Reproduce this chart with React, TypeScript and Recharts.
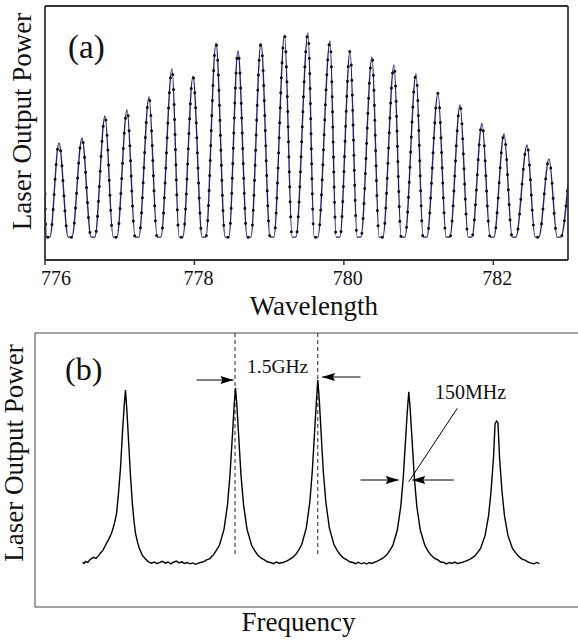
import React from 'react';
import { LineChart, Line, XAxis, YAxis, ReferenceLine } from 'recharts';

const SERIF = '"Liberation Serif", "Times New Roman", serif';
const INK = '#111';

// (a) wavelength scan — nm vs. arbitrary power (0..100)
const WAVE_TICKS = [776, 778, 780, 782];
const PEAK_NM = [
  776.187, 776.495, 776.803, 777.098, 777.392, 777.700, 777.981, 778.289,
  778.583, 778.891, 779.206, 779.520, 779.815, 780.083, 780.377, 780.671,
  780.966, 781.260, 781.555, 781.849, 782.144, 782.452, 782.746,
];
const PEAK_LEVEL = [
  46.1, 48.0, 56.7, 59.1, 64.2, 75.2, 72.4, 85.4, 82.3, 85.4, 88.6, 89.4,
  86.2, 82.3, 79.9, 76.8, 73.2, 65.7, 61.0, 53.9, 49.6, 45.3, 39.8,
];
// flat bottoms between the fringes (start / end of each trough)
const TROUGH_L = [
  776.015, 776.310, 776.617, 776.912, 777.206, 777.501, 777.795, 778.103,
  778.411, 778.706, 779.013, 779.308, 779.602, 779.897, 780.178, 780.472,
  780.767, 781.061, 781.369, 781.664, 781.958, 782.253, 782.560, 782.855,
];
const TROUGH_R = [
  776.065, 776.360, 776.667, 776.962, 777.256, 777.551, 777.845, 778.153,
  778.461, 778.756, 779.063, 779.358, 779.652, 779.947, 780.228, 780.522,
  780.817, 781.111, 781.419, 781.714, 782.008, 782.303, 782.610, 782.905,
];
const FLOOR = 9;
const EDGE_NM = [776.0, 783.0];
const EDGE_LEVEL = [26, 30];

// (b) frequency scan — arbitrary units, ticks at 1..5
const FREQ_TICKS = [1, 2, 3, 4, 5];
const POWER_TICKS = [1, 2, 3, 4, 5];
const FREQ = [
  0.518, 0.535, 0.550, 0.575, 0.600, 0.638, 0.665, 0.690, 0.714, 0.740, 0.768, 0.800, 0.834, 0.862, 0.888, 0.910,
  0.932, 0.954, 0.972, 0.986, 1.000, 1.014, 1.041, 1.063, 1.079, 1.095, 1.117, 1.139, 1.170, 1.204, 1.237, 1.270,
  1.300, 1.330, 1.360, 1.390, 1.420, 1.450, 1.480, 1.510, 1.540, 1.570, 1.600, 1.630, 1.660, 1.690, 1.720, 1.750, 1.775,
  1.804, 1.840, 1.869, 1.905, 1.946, 1.980, 2.011, 2.060, 2.098, 2.125, 2.153, 2.170, 2.185, 2.200, 2.218, 2.245,
  2.273, 2.311, 2.360, 2.392, 2.425, 2.465, 2.501, 2.535, 2.567,
  2.600, 2.630, 2.660, 2.701,
  2.735, 2.766, 2.805, 2.843, 2.875, 2.908, 2.957, 2.995, 3.022, 3.050, 3.067, 3.082, 3.098, 3.115, 3.142, 3.170,
  3.208, 3.257, 3.290, 3.322, 3.360, 3.398, 3.430, 3.464,
  3.495, 3.525, 3.555, 3.585, 3.615, 3.645, 3.670,
  3.693, 3.725, 3.758, 3.795, 3.834, 3.867, 3.900, 3.949, 3.987, 4.014, 4.041, 4.058, 4.074, 4.090, 4.107, 4.134,
  4.161, 4.199, 4.249, 4.282, 4.314, 4.352, 4.390, 4.422, 4.456,
  4.485, 4.515, 4.545, 4.575, 4.605, 4.630,
  4.649, 4.680, 4.714, 4.752, 4.790, 4.823, 4.856, 4.905, 4.943, 4.970, 4.997, 5.014, 5.030, 5.046, 5.063, 5.090,
  5.117, 5.155, 5.204, 5.237, 5.270, 5.308, 5.346, 5.380, 5.411, 5.440, 5.470, 5.499,
];
const POWER = [
  0.980, 0.955, 1.000, 0.975, 1.040, 1.087, 1.065, 1.120, 1.182, 1.240, 1.352, 1.470, 1.616, 1.800, 2.032, 2.485,
  3.051, 3.845, 4.400, 4.751, 4.350, 3.845, 2.863, 2.220, 1.880, 1.616, 1.420, 1.276, 1.130, 1.050, 0.990, 0.960,
  0.985, 0.950, 0.975, 1.000, 0.960, 0.985, 0.945, 0.980, 1.005, 0.965, 0.990, 0.955, 0.975, 0.945, 0.965, 0.935, 0.955,
  0.974, 0.995, 1.031, 1.060, 1.146, 1.250, 1.357, 1.701, 2.237, 2.888, 3.806, 4.400, 4.801, 4.420, 3.806, 2.888,
  2.237, 1.701, 1.357, 1.240, 1.146, 1.070, 1.031, 0.985, 0.974,
  0.950, 0.985, 0.960, 0.974,
  1.000, 1.034, 1.080, 1.154, 1.250, 1.374, 1.733, 2.293, 2.972, 3.931, 4.500, 4.970, 4.550, 3.931, 2.972, 2.293,
  1.733, 1.374, 1.250, 1.154, 1.075, 1.034, 0.990, 0.974,
  0.950, 0.980, 0.945, 0.970, 0.940, 0.975, 0.955,
  0.974, 1.000, 1.030, 1.075, 1.142, 1.240, 1.348, 1.685, 2.208, 2.844, 3.742, 4.300, 4.714, 4.300, 3.742, 2.844,
  2.208, 1.685, 1.348, 1.230, 1.142, 1.070, 1.030, 0.985, 0.974,
  0.945, 0.975, 0.955, 0.985, 0.950, 0.970,
  0.974, 0.995, 1.020, 1.060, 1.113, 1.190, 1.284, 1.563, 1.996, 2.523, 3.267, 4.010, 4.072, 4.030, 3.267, 2.523,
  1.996, 1.563, 1.284, 1.190, 1.113, 1.050, 1.020, 0.980, 0.960, 0.945, 0.975, 0.950,
];

// annotation positions in (b), data units
const FSR_LINES = [2.18, 3.082];
const FSR_ARROWS = [
  { from: [1.76, 4.97], to: [2.163, 4.97] },
  { from: [3.548, 5.036], to: [3.128, 5.036] },
];
const WIDTH_ARROWS = [
  { from: [3.548, 2.781], to: [3.964, 2.781] },
  { from: [4.565, 2.781], to: [4.111, 2.781] },
];
const LEADER = { from: [4.602, 4.351], to: [4.074, 2.744] };

const scanRows: { nm: number; p: number }[] = [{ nm: EDGE_NM[0], p: EDGE_LEVEL[0] }];
PEAK_NM.forEach((nm, i) => {
  scanRows.push({ nm: TROUGH_L[i], p: FLOOR }, { nm: TROUGH_R[i], p: FLOOR }, { nm, p: PEAK_LEVEL[i] });
});
scanRows.push(
  { nm: TROUGH_L[PEAK_NM.length], p: FLOOR },
  { nm: TROUGH_R[PEAK_NM.length], p: FLOOR },
  { nm: EDGE_NM[1], p: EDGE_LEVEL[1] },
);

const freqRows = FREQ.map((f, i) => ({ f, p: POWER[i] }));

const WaveTick = (props: any) => {
  const { x, y, payload } = props;
  const dx = payload.value === 776 ? 11 : 4;
  return (
    <text x={x + dx} y={y + 18} textAnchor="middle" fontSize={20} fill={INK} fontFamily={SERIF}>
      {payload.value}
    </text>
  );
};

const seg = (a: { from: number[]; to: number[] }) => [
  { x: a.from[0], y: a.from[1] },
  { x: a.to[0], y: a.to[1] },
];

const App: React.FC = () => {
  const boxA = { stroke: '#333', strokeWidth: 1.8 };
  const boxB = { stroke: '#444', strokeWidth: 1 };

  return (
    <div style={{ position: 'absolute', left: 0, top: 0, width: 578, height: 640, background: '#fff', fontFamily: SERIF }}>
      <svg width={0} height={0} style={{ position: 'absolute' }}>
        <defs>
          <marker id="arrowHead" markerUnits="userSpaceOnUse" markerWidth={14} markerHeight={8} refX={13} refY={4} orient="auto">
            <path d="M0,0 L13,4 L0,8 L2,4 z" fill="#000" />
          </marker>
        </defs>
      </svg>

      {/* (a) — axes of size 1 so Recharts still draws them */}
      <div style={{ position: 'absolute', left: 0, top: 0 }}>
        <LineChart width={578} height={290} data={scanRows} margin={{ top: 5, right: 9, bottom: 0, left: 44 }}>
          <XAxis
            dataKey="nm" type="number" domain={[776, 783]} ticks={WAVE_TICKS} allowDataOverflow
            height={30} axisLine={boxA} tickLine={{ stroke: '#333', strokeWidth: 1.5 }} tickSize={5} tick={<WaveTick />}
          />
          <XAxis xAxisId="top" orientation="top" dataKey="nm" type="number" domain={[776, 783]} height={1} axisLine={boxA} tick={false} tickLine={false} />
          <YAxis type="number" domain={[0, 100]} width={1} axisLine={boxA} tick={false} tickLine={false} />
          <YAxis yAxisId="r" orientation="right" type="number" domain={[0, 100]} width={1} axisLine={boxA} tick={false} tickLine={false} />
          <Line type="monotone" dataKey="p" stroke="#24246e" strokeWidth={1.4} dot={false} isAnimationActive={false} />
          <Line
            type="monotone" dataKey="p" stroke="#0d0d0d" strokeWidth={3} strokeDasharray="0 15" strokeLinecap="round"
            dot={false} isAnimationActive={false}
          />
        </LineChart>
      </div>

      {/* (b) */}
      <div style={{ position: 'absolute', left: 0, top: 320 }}>
        <LineChart width={578} height={300} data={freqRows} margin={{ top: 13, right: 0, bottom: 13, left: 35 }}>
          <XAxis
            dataKey="f" type="number" domain={[0, 5.918]} ticks={FREQ_TICKS} allowDataOverflow
            mirror height={1} axisLine={boxB} tickLine={boxB} tickSize={4} tick={false}
          />
          <XAxis
            xAxisId="top" orientation="top" dataKey="f" type="number" domain={[0, 5.918]} ticks={FREQ_TICKS}
            mirror height={1} axisLine={boxB} tickLine={boxB} tickSize={4} tick={false}
          />
          <YAxis type="number" domain={[0, 6]} ticks={POWER_TICKS} mirror width={1} axisLine={boxB} tickLine={boxB} tickSize={4} tick={false} />
          {FSR_LINES.map((x) => (
            <ReferenceLine key={x} segment={[{ x, y: 6 }, { x, y: 1.14 }]} stroke="#222" strokeWidth={1} strokeDasharray="4 3" />
          ))}
          {[...FSR_ARROWS, ...WIDTH_ARROWS].map((a, i) => (
            <ReferenceLine key={`arr${i}`} segment={seg(a)} stroke="#000" strokeWidth={1} markerEnd="url(#arrowHead)" />
          ))}
          <ReferenceLine segment={seg(LEADER)} stroke="#000" strokeWidth={1} />
          <Line type="linear" dataKey="p" stroke="#000" strokeWidth={1.4} dot={false} isAnimationActive={false} />
        </LineChart>
      </div>

      <svg width={578} height={640} style={{ position: 'absolute', left: 0, top: 0, pointerEvents: 'none' }} fontFamily={SERIF} fill={INK}>
        <text x={68} y={58} fontSize={33}>(a)</text>
        <text transform="translate(31,121.5) rotate(-90)" textAnchor="middle" fontSize={27}>Laser Output Power</text>
        <text x={313.8} y={315} textAnchor="middle" fontSize={27}>Wavelength</text>

        <text x={65} y={380} fontSize={32}>(b)</text>
        <text transform="translate(23,453) rotate(-90)" textAnchor="middle" fontSize={27}>Laser Output Power</text>
        <text x={298.5} y={631} textAnchor="middle" fontSize={27}>Frequency</text>
        <text x={247} y={373} fontSize={19.5}>1.5GHz</text>
        <text x={435} y={399} fontSize={20}>150MHz</text>
      </svg>
    </div>
  );
};

export default App;
